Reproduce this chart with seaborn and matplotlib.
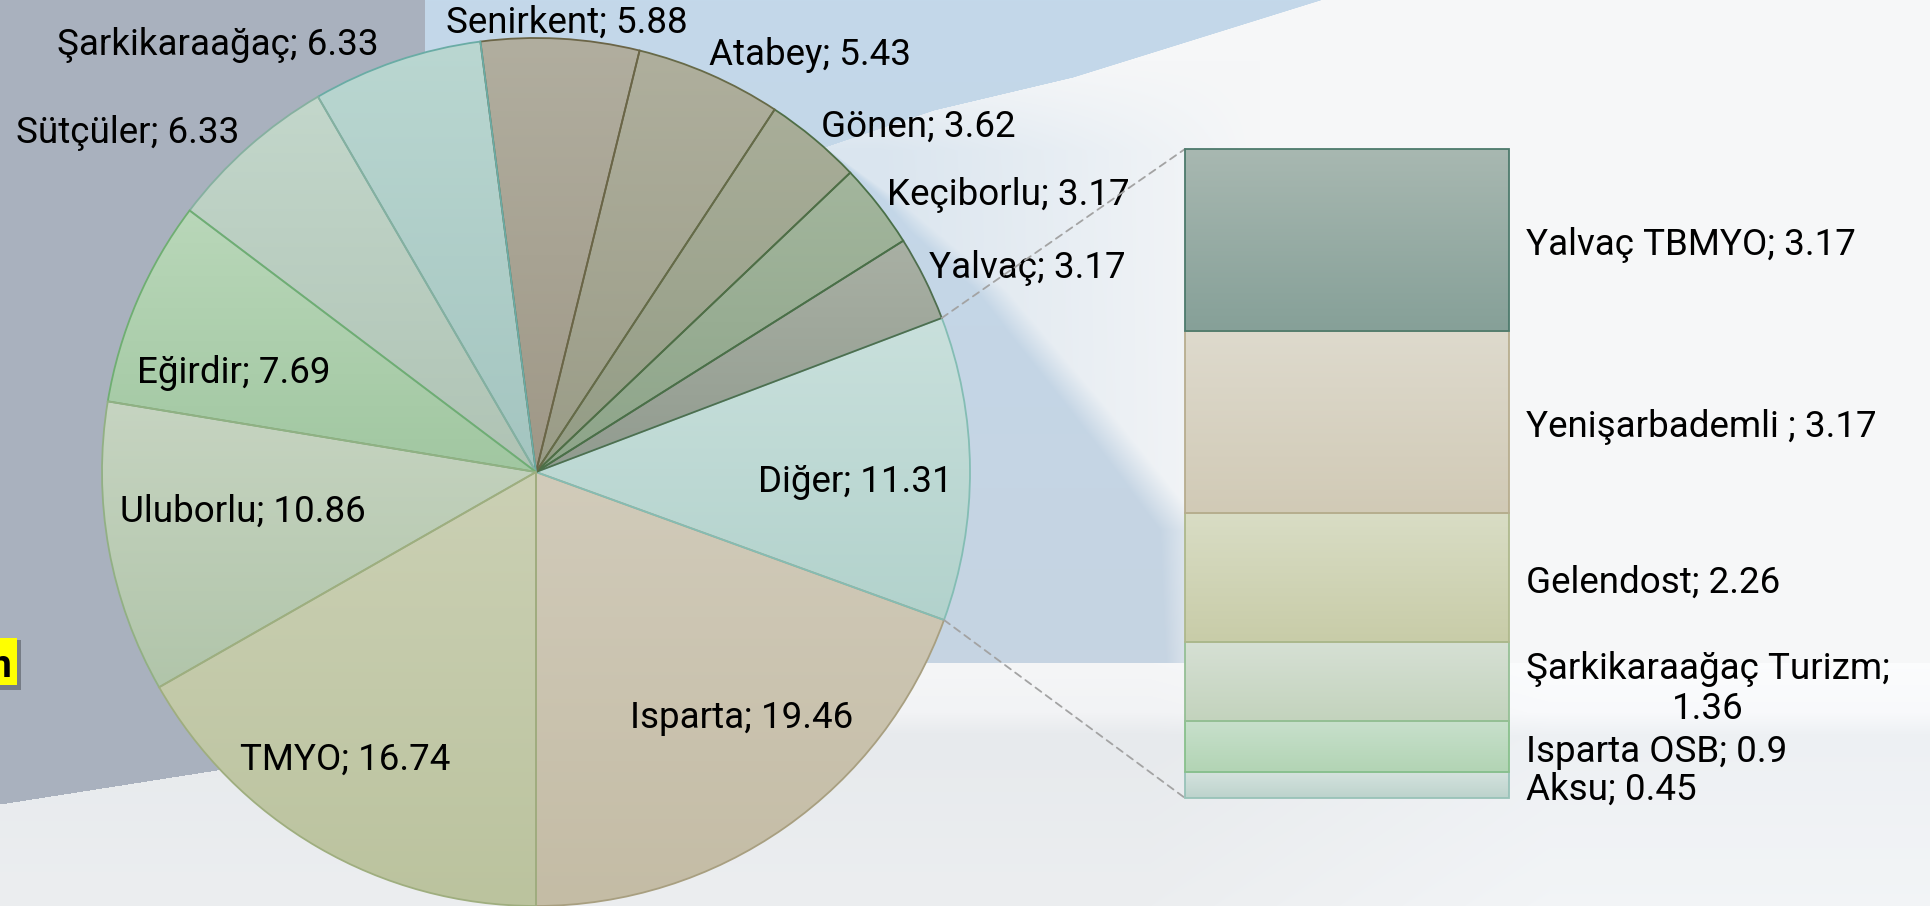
import numpy as np
import matplotlib
matplotlib.use("Agg")
import matplotlib.pyplot as plt
import seaborn as sns
from matplotlib.patches import Rectangle, ConnectionPatch

# ---------------- data ----------------
pie_labels = ["Isparta", "Diğer", "Yalvaç", "Keçiborlu", "Gönen", "Atabey",
              "Senirkent", "Şarkikaraağaç", "Sütçüler", "Eğirdir", "Uluborlu", "TMYO"]
pie_values = [19.46, 11.31, 3.17, 3.17, 3.62, 5.43, 5.88, 6.33, 6.33, 7.69, 10.86, 16.74]

bar_labels = ["Aksu", "Isparta OSB", "Şarkikaraağaç Turizm", "Gelendost",
              "Yenişarbademli ", "Yalvaç TBMYO"]
bar_values = [0.45, 0.9, 1.36, 2.26, 3.17, 3.17]

# ---------------- styles ----------------
pie_top = ["#d1cbba", "#c9e0dc", "#a9b0a4", "#a3b69d", "#a9ae99", "#afaf9d",
           "#b1ae9f", "#bad7d1", "#c3d7cb", "#b9d7b9", "#c6d4c1", "#cbd0b4"]
pie_bot = ["#c4bca5", "#b2d2cc", "#919b8f", "#8da489", "#939c85", "#9a9c87",
           "#9f9887", "#a4c5c0", "#afc3b4", "#a1c7a1", "#b1c5aa", "#bbc39e"]
pie_edge = ["#a89f80", "#84bdb4", "#4f6e4e", "#4a7048", "#4f6e46", "#676a48",
            "#6b6547", "#6aaca5", "#86b0a0", "#6fae72", "#92b084", "#9fae7f"]

bar_top = ["#d5e2de", "#c8e0cc", "#d6e0d4", "#d9ddc5", "#dedacd", "#a8b8b1"]
bar_bot = ["#bcd3cc", "#b2d4b4", "#c3d3bd", "#c8cca8", "#d1cab6", "#86a098"]
bar_edge = ["#98c2b8", "#88c08c", "#95bf95", "#aeb88c", "#b7ad8e", "#4d7a6c"]

# label layout (pixel coords, y from top; baseline of last line)
pie_label_pos = {
    "Isparta": (742, 728), "Diğer": (855, 492), "Yalvaç": (1027, 278),
    "Keçiborlu": (1008, 205), "Gönen": (918, 137), "Atabey": (810, 65),
    "Senirkent": (567, 33), "Şarkikaraağaç": (218, 55), "Sütçüler": (128, 143),
    "Eğirdir": (234, 383), "Uluborlu": (243, 522), "TMYO": (345, 770),
}
bar_label_x = 1526
bar_label_y = {"Aksu": 800, "Isparta OSB": 762, "Şarkikaraağaç Turizm": 719,
               "Gelendost": 593, "Yenişarbademli ": 437, "Yalvaç TBMYO": 255}
bar_label_sep = {"Şarkikaraağaç Turizm": "\n"}

W, H = 1931, 906
FS = 26.5

sns.set_theme(style="white")
plt.rcParams["font.family"] = ["Roboto", "DejaVu Sans"]

fig = plt.figure(figsize=(W / 100, H / 100), dpi=100)

# ---------------- background ----------------
ax_bg = fig.add_axes([0, 0, 1, 1], zorder=0)
ax_bg.set_axis_off()
yy, xx = np.mgrid[0:H, 0:W].astype(float)
img = np.empty((H, W, 3))
img[:] = np.array([246, 247, 248]) / 255.0

# sharp-edged blue band at the top, softer diagonal edge lower down
ya = np.array([0, 77, 110, 147, 200, 290, 410, 530, 906])
xa = np.array([1320, 1073, 934, 825, 900, 1000, 1095, 1185, 1200])
xb = np.interp(yy[:, 0], ya, xa)
soft = np.interp(yy[:, 0], [0, 150, 230, 906], [2, 2, 50, 50])
t1 = np.clip((xb[:, None] - xx) / soft[:, None] + 0.5, 0, 1)
# broad light tint right of the pie
fade_in = np.clip((yy - 60) / 90, 0, 1)
t2 = 0.55 * np.clip((1260 - xx) / 380, 0, 1) * fade_in
t = np.maximum(t1, t2)
blue_top = np.array([195, 216, 234]) / 255.0
blue_low = np.array([198, 212, 226]) / 255.0
fy = (yy / 650.0).clip(0, 1)[..., None]
blue = blue_top * (1 - fy) + blue_low * fy
tt = t[..., None]
img = img * (1 - tt) + blue * tt

panel_line = 804 - 0.157 * xx
panel = (xx < 425) & (yy < panel_line)
img[panel] = np.array([169, 177, 190]) / 255.0

floor = ((xx >= 425) & (yy > 662)) | ((xx < 425) & (yy >= panel_line))
fcols = np.array([[245, 246, 247], [242, 243, 245], [231, 234, 237], [236, 238, 240]]) / 255.0
fys = [662, 712, 735, 906]
fl = np.stack([np.interp(yy[:, 0], fys, fcols[:, c]) for c in range(3)], axis=1)
flimg = fl[:, None, :] + 0.025 * np.clip((xx - 1150) / 400, 0, 1)[..., None]
flimg = np.clip(flimg, 0, 1)
img[floor] = flimg[floor]

ax_bg.imshow(img, extent=(0, W, H, 0), aspect="auto", interpolation="bilinear")
ax_bg.set_xlim(0, W)
ax_bg.set_ylim(H, 0)

# yellow tag on the left edge
ax_bg.add_patch(Rectangle((-6, 640), 27, 50, color="#6e737d", alpha=0.85, lw=0))
ax_bg.add_patch(Rectangle((-6, 638), 23, 47, color="#ffff00", lw=0))
ax_bg.text(12, 677, "n", fontsize=28, fontweight="bold", color="black",
           ha="right", va="baseline")

# ---------------- pie ----------------
ax = fig.add_axes([0, 0, 1, 1], zorder=1)
ax.patch.set_alpha(0)
wedges, _ = ax.pie(pie_values, startangle=-90, counterclock=True,
                   center=(536, H - 472), radius=434,
                   wedgeprops=dict(linewidth=1.3))
for w, c0, c1, ec in zip(wedges, pie_top, pie_bot, pie_edge):
    cmap = sns.blend_palette([c0, c1], n_colors=256, as_cmap=True)
    ext = w.get_path().get_extents()
    im = ax.imshow(np.linspace(0, 1, 256)[:, None], cmap=cmap,
                   extent=(ext.x0, ext.x1, ext.y0, ext.y1), origin="upper",
                   aspect="auto", interpolation="bilinear", zorder=1)
    im.set_clip_path(w)
    w.set_facecolor("none")
    w.set_edgecolor(ec)
    w.set_zorder(2)

for name, val in zip(pie_labels, pie_values):
    x, y = pie_label_pos[name]
    ax.text(x, H - y, f"{name}; {val:g}", fontsize=FS, color="black",
            ha="center", va="baseline", zorder=5)

ax.set_xlim(0, W)
ax.set_ylim(0, H)
ax.set_aspect("auto")
ax.set_axis_off()

# ---------------- stacked bar (breakdown of "Diğer") ----------------
total = float(np.sum(bar_values))
ax_bar = fig.add_axes([1185 / W, (H - 798) / H, 324 / W, 649 / H], zorder=2)
ax_bar.patch.set_alpha(0)
bottoms = np.concatenate([[0.0], np.cumsum(bar_values)[:-1]])
rects = ax_bar.bar(0, bar_values, bottom=bottoms, width=1.0, linewidth=1.3)
for r, c0, c1, ec in zip(rects, bar_top, bar_bot, bar_edge):
    cmap = sns.blend_palette([c0, c1], n_colors=256, as_cmap=True)
    x0, y0 = r.get_x(), r.get_y()
    im = ax_bar.imshow(np.linspace(0, 1, 256)[:, None], cmap=cmap,
                       extent=(x0, x0 + r.get_width(), y0, y0 + r.get_height()),
                       origin="upper", aspect="auto", interpolation="bilinear", zorder=1)
    im.set_clip_path(r)
    r.set_facecolor("none")
    r.set_edgecolor(ec)
    r.set_zorder(2)
    r.set_clip_on(False)
ax_bar.set_xlim(-0.5, 0.5)
ax_bar.set_ylim(0, total)
ax_bar.set_axis_off()

for name, val in zip(bar_labels, bar_values):
    sep = bar_label_sep.get(name, " ")
    ax.text(bar_label_x, H - bar_label_y[name], f"{name};{sep}{val:g}",
            fontsize=FS, color="black", ha="left", va="baseline",
            multialignment="center", linespacing=1.15, zorder=5)

# ---------------- connector lines ----------------
dig = wedges[pie_labels.index("Diğer")]
cx, cy = dig.center
rr = dig.r
t_1, t_2 = np.deg2rad(dig.theta1), np.deg2rad(dig.theta2)
p_top = (cx + rr * np.cos(t_2), cy + rr * np.sin(t_2))
p_bot = (cx + rr * np.cos(t_1), cy + rr * np.sin(t_1))
for pa, pb in [(p_top, (-0.5, total)), (p_bot, (-0.5, 0.0))]:
    con = ConnectionPatch(xyA=pa, coordsA=ax.transData, xyB=pb, coordsB=ax_bar.transData,
                          linestyle=(0, (4, 3)), color="#a3a3a3", lw=1.3, zorder=1.5)
    fig.add_artist(con)

fig.savefig("out.png", dpi=100)
